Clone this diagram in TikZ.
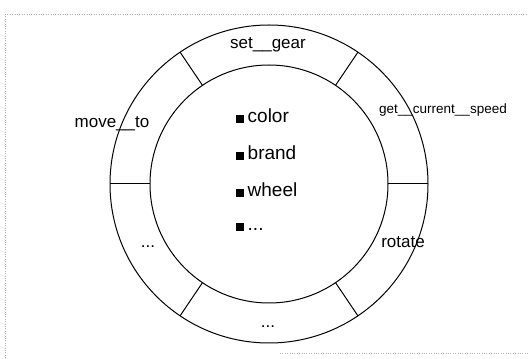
\documentclass[tikz,border=0pt]{standalone}
\usepackage{fontspec}
\setmainfont{Liberation Sans}
\usetikzlibrary{positioning,calc}
\tikzset{
	method/.style={font=\fontsize{17}{19}\selectfont, inner sep=1pt},
	field/.style={font=\fontsize{19}{21}\selectfont, anchor=west, inner sep=0pt},
	ring/.style={line width=1pt}
}
\newcommand{\fieldmark}{\rule{7.5pt}{8pt}\hspace{4pt}}
\begin{document}
\begin{tikzpicture}[x=1pt,y=1pt]
				\useasboundingbox (0,0) rectangle (528,359);
				\draw[gray!60, dotted] (5,345) -- (528,345);
				\draw[gray!60, dotted] (5,345) -- (5,0);
				\draw[gray!60, dotted] (280,6) -- (528,6);
				\coordinate (hub) at (269,175);
				\draw[ring] (hub) circle (159);
				\draw[ring] (hub) circle (119);
				\foreach \a in {0,56,124,180,236,304}
					\draw[ring] ($(hub)+(\a:119)$) -- ($(hub)+(\a:159)$);
				\node[method] (setgear) at (268,314) {set\_\_gear};
				\node[method, font=\fontsize{13.5}{15}\selectfont] (getspeed) at (443,249) {get\_\_current\_\_speed};
				\node[method] (moveto) at (112,235) {move\_\_to};
				\node[method] (rotate) at (403,117) {rotate};
				\node[method] (leftdots) at (148,112) {...};
				\node[method] (bottomdots) at (268,32) {...};
				\node[field] (color) at (236,243) {\fieldmark color};
				\node[field, below=37pt of color.west, anchor=west] (brand) {\fieldmark brand};
				\node[field, below=37pt of brand.west, anchor=west] (wheel) {\fieldmark wheel};
				\node[field, below=37pt of wheel.west, anchor=west] (more) {\fieldmark ...};
				\end{tikzpicture}
\end{document}
